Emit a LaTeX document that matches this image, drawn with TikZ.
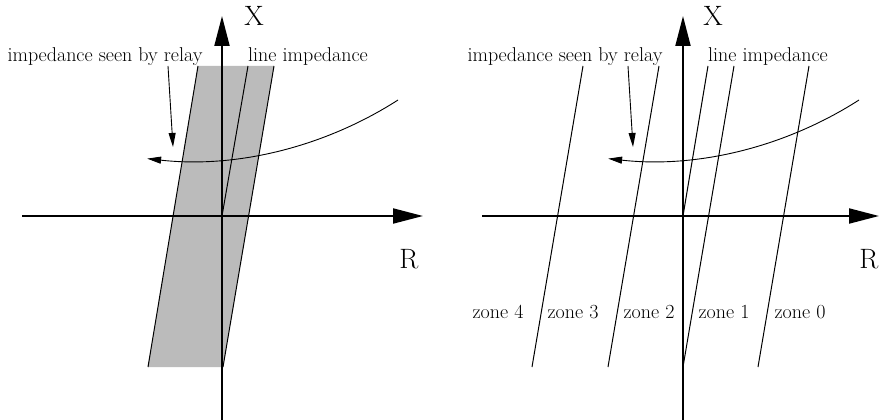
\documentclass[tikz,border=0pt]{standalone}
\usetikzlibrary{arrows.meta}
\definecolor{zonegray}{RGB}{187,187,187}
\begin{document}
\begin{tikzpicture}[x=1pt,y=1pt,
  axis/.style={line width=2pt,-{Triangle[length=30pt,width=15pt]}},
  zline/.style={line width=1pt},
  sarrow/.style={line width=0.9pt,-{Triangle[length=14pt,width=7pt]}},
  lbl/.style={font=\fontsize{20}{24}\selectfont,inner sep=0pt},
  big/.style={font=\fontsize{28}{32}\selectfont,inner sep=0pt,anchor=base}]
\useasboundingbox (0,0) rectangle (879,-420);
% ---------- left panel ----------
\fill[zonegray] (148,-367) -- (198,-66) -- (274,-66) -- (223,-367) -- cycle;
\draw[zline] (148,-367) -- (198,-66);
\draw[zline] (223,-367) -- (274,-66);
\coordinate (Lo) at (222,-216);
\coordinate (Lt) at (248,-66);
\draw[zline] (Lo) -- (Lt);
\coordinate (Lxs) at (22,-216);  \coordinate (Lxe) at (423,-216);
\coordinate (Lys) at (222,-420); \coordinate (Lye) at (222,-16);
\draw[axis] (Lxs) -- (Lxe);
\draw[axis] (Lys) -- (Lye);
\node[big] (LX) at (254,-26) {X};
\node[big] (LR) at (409,-268) {R};
\node[lbl,anchor=base] (Lrel) at (105,-62) {impedance seen by relay};
\node[lbl,anchor=base west] (Lline) at (248,-62) {line impedance};
\coordinate (Lra) at (168,-66); \coordinate (Lrb) at (173,-147);
\draw[sarrow] (Lra) -- (Lrb);
\coordinate (Las) at (398,-100);
\draw[sarrow] (Las) arc[start angle=-57.3,end angle=-96.4,radius=385pt];
% ---------- right panel ----------
\coordinate (Ro) at (683,-216);
\draw[zline] (532,-367) -- (583,-66);
\draw[zline] (608,-367) -- (659,-66);
\draw[zline] (683,-367) -- (734,-66);
\draw[zline] (758,-367) -- (809,-66);
\coordinate (Rt) at (708,-66);
\draw[zline] (Ro) -- (Rt);
\coordinate (Rxs) at (482,-216); \coordinate (Rxe) at (879,-216);
\coordinate (Rys) at (683,-420); \coordinate (Rye) at (683,-16);
\draw[axis] (Rxs) -- (Rxe);
\draw[axis] (Rys) -- (Rye);
\node[big] (RX) at (713,-26) {X};
\node[big] (RR) at (869,-268) {R};
\node[lbl,anchor=base] (Rrel) at (565,-62) {impedance seen by relay};
\node[lbl,anchor=base west] (Rline) at (708,-62) {line impedance};
\coordinate (Rra) at (628,-66); \coordinate (Rrb) at (633,-147);
\draw[sarrow] (Rra) -- (Rrb);
\coordinate (Ras) at (859,-100);
\draw[sarrow] (Ras) arc[start angle=-57.3,end angle=-96.4,radius=385pt];
\node[lbl,anchor=base] (z4) at (498,-318) {zone 4};
\node[lbl,anchor=base] (z3) at (573,-318) {zone 3};
\node[lbl,anchor=base] (z2) at (649,-318) {zone 2};
\node[lbl,anchor=base] (z1) at (724,-318) {zone 1};
\node[lbl,anchor=base] (z0) at (800,-318) {zone 0};
\end{tikzpicture}
\end{document}
